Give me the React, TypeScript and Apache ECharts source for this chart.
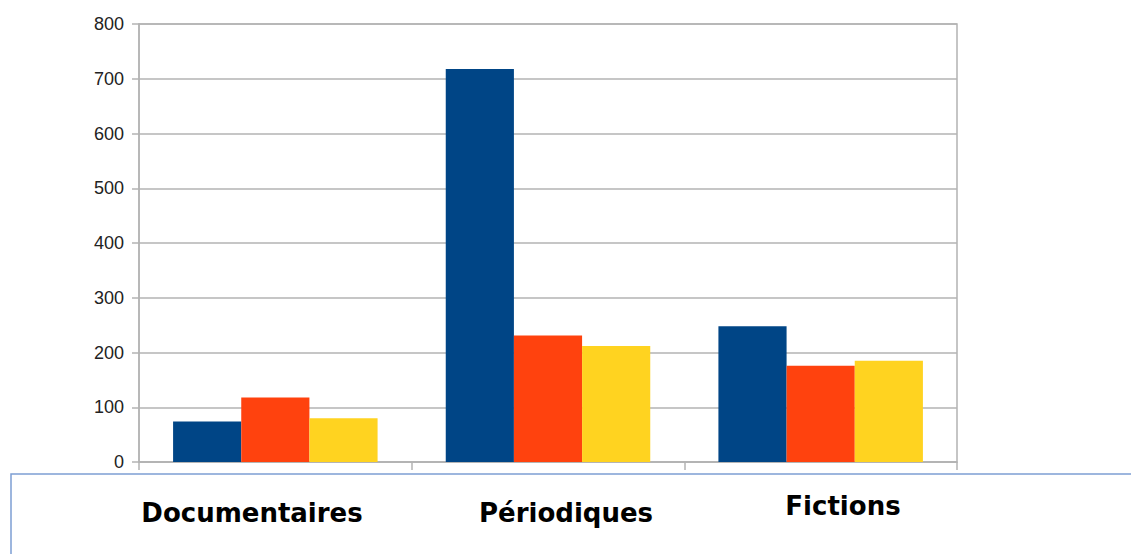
import React, { useEffect, useRef } from "react";
import * as echarts from "echarts";

const categories = ["Documentaires", "Périodiques", "Fictions"];
const seriesA = [74, 718, 248];
const seriesB = [118, 231, 176];
const seriesC = [80, 212, 185];
const yTicks = [0, 100, 200, 300, 400, 500, 600, 700, 800];

const colors = ["#004586", "#ff420e", "#ffd320"];
const labelPos = [
  { x: 252, y: 513 },
  { x: 566, y: 513 },
  { x: 843, y: 506 },
];

export default function App() {
  const ref = useRef<HTMLDivElement>(null);
  useEffect(() => {
    if (!ref.current) return;
    const chart = echarts.init(ref.current, null, { renderer: "svg" });
    const lineColor = "#b3b3b3";
    chart.setOption({
      animation: false,
      grid: {
        left: 139,
        top: 24,
        width: 818,
        height: 438,
        show: true,
        borderColor: lineColor,
        borderWidth: 1.5,
      },
      xAxis: {
        type: "category",
        data: categories,
        axisLine: { show: true, lineStyle: { color: lineColor, width: 1.5 } },
        axisTick: { show: true, length: 8, lineStyle: { color: lineColor, width: 1.5 } },
        axisLabel: { show: false },
      },
      yAxis: {
        type: "value",
        min: yTicks[0],
        max: yTicks[yTicks.length - 1],
        interval: 100,
        axisLine: { show: true, lineStyle: { color: lineColor, width: 1.5 } },
        axisTick: { show: true, length: 7, lineStyle: { color: lineColor, width: 1.5 } },
        splitLine: { show: true, lineStyle: { color: lineColor, width: 1.5 } },
        axisLabel: {
          margin: 15,
          fontSize: 18,
          color: "#222",
          fontFamily: "Liberation Sans, Arial, sans-serif",
        },
      },
      series: [seriesA, seriesB, seriesC].map((d, i) => ({
        type: "bar",
        data: d,
        barGap: "0%",
        barCategoryGap: "25%",
        itemStyle: { color: colors[i] },
      })),
      graphic: [
        {
          type: "rect",
          shape: { x: 11, y: 474, width: 1200, height: 200 },
          style: { fill: "none", stroke: "#7d9fd3", lineWidth: 1.5 },
          z: 10,
        },
        ...categories.map((c, i) => ({
          type: "text",
          x: labelPos[i].x,
          y: labelPos[i].y,
          style: {
            text: c,
            fontSize: 26,
            fontWeight: "bold",
            fontFamily: '"Comic Sans MS", "DejaVu Sans", sans-serif',
            fill: "#000",
            textAlign: "center",
            textVerticalAlign: "middle",
          },
          z: 11,
        })),
      ],
    });
    return () => chart.dispose();
  }, []);
  return (
    <div
      ref={ref}
      style={{ position: "fixed", left: 0, top: 0, width: 1131, height: 554, background: "#fff" }}
    />
  );
}
